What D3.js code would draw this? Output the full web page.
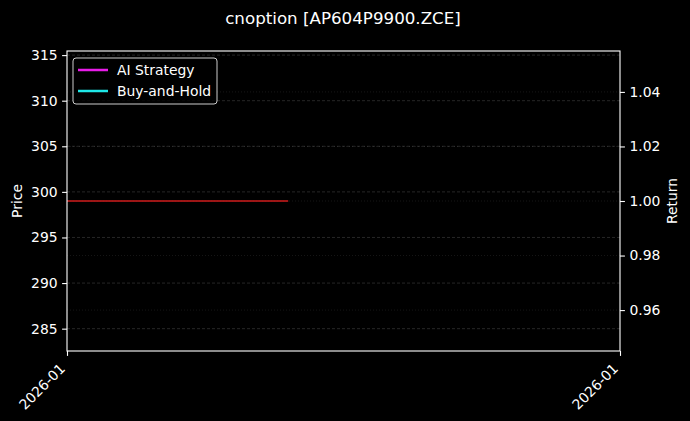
<!DOCTYPE html>
<html>
<head>
<meta charset="utf-8">
<script src="https://cdn.jsdelivr.net/npm/d3@7"></script>
<style>
  body { margin: 0; background: #000; }
  svg { display: block; font-family: "DejaVu Sans", sans-serif; }
</style>
</head>
<body>
<svg id="chart" width="690" height="421"></svg>
<script>
const title = "cnoption [AP604P9900.ZCE]";
const dates = ["2026-01-05", "2026-01-06", "2026-01-07", "2026-01-08", "2026-01-09",
    "2026-01-12", "2026-01-13", "2026-01-14", "2026-01-15"];
const prices = [299, 299, 299, 299, 299, 299, 299, 299, 299];
const xRange = ["2026-01-05", "2026-01-30"];
const priceTicks = [285, 290, 295, 300, 305, 310, 315];
const returnTicks = [0.96, 0.98, 1.0, 1.02, 1.04];
const series = [
    { name: "AI Strategy", color: "#e81ce8" },
    { name: "Buy-and-Hold", color: "#1ee6e6" }
];

const parse = d3.timeParse("%Y-%m-%d");
const margin = { top: 51, right: 70, bottom: 70, left: 67 };
const width = 690 - margin.left - margin.right;
const height = 421 - margin.top - margin.bottom;
const fs = "13.9px";

const svg = d3.select("#chart");
svg.append("rect").attr("width", 690).attr("height", 421).attr("fill", "#000");

const g = svg.append("g").attr("transform", `translate(${margin.left},${margin.top})`);

const x = d3.scaleTime().domain(xRange.map(parse)).range([0, width]);
const yPrice = d3.scaleLinear().domain([282.55, 315.45]).range([height, 0]);
const yRet = d3.scaleLinear().domain([0.945, 1.055]).range([height, 0]);

// grids
g.append("g")
    .selectAll("line")
    .data(priceTicks)
    .join("line")
    .attr("x1", 0).attr("x2", width)
    .attr("y1", (d) => yPrice(d)).attr("y2", (d) => yPrice(d))
    .attr("stroke", "#fff").attr("stroke-opacity", 0.25)
    .attr("stroke-width", 0.6).attr("stroke-dasharray", "3,2");

g.append("g")
    .selectAll("line")
    .data(returnTicks)
    .join("line")
    .attr("x1", 0).attr("x2", width)
    .attr("y1", (d) => yRet(d)).attr("y2", (d) => yRet(d))
    .attr("stroke", "#fff").attr("stroke-opacity", 0.15)
    .attr("stroke-width", 0.6).attr("stroke-dasharray", "1,2");

// price line
const line = d3.line()
    .x((d, i) => x(parse(dates[i])))
    .y((d) => yPrice(d));
g.append("path")
    .datum(prices)
    .attr("fill", "none")
    .attr("stroke", "#d01c1c")
    .attr("stroke-width", 1.3)
    .attr("d", line);

// axes
const tickStyle = (sel) => {
    sel.select(".domain").remove();
    sel.selectAll("line").attr("stroke", "#fff").attr("stroke-width", 1.1);
    sel.selectAll("text").attr("fill", "#fff").style("font-size", fs)
        .style("font-family", "DejaVu Sans");
};

g.append("g")
    .call(d3.axisLeft(yPrice).tickValues(priceTicks).tickSize(4.9).tickPadding(4.5))
    .call(tickStyle);

g.append("g")
    .attr("transform", `translate(${width},0)`)
    .call(d3.axisRight(yRet).tickValues(returnTicks).tickFormat(d3.format(".2f")).tickSize(4.9).tickPadding(4.5))
    .call(tickStyle);

const xAxis = g.append("g")
    .attr("transform", `translate(0,${height})`)
    .call(d3.axisBottom(x).tickValues(xRange.map(parse)).tickFormat(d3.timeFormat("%Y-%m")).tickSize(4.9))
    .call(tickStyle);
xAxis.selectAll("text")
    .attr("x", 0).attr("y", 0)
    .attr("text-anchor", "end")
    .attr("dy", "0.35em")
    .attr("transform", "translate(-5,15) rotate(-45)");

// frame
g.append("rect")
    .attr("width", width).attr("height", height)
    .attr("fill", "none").attr("stroke", "#fff").attr("stroke-width", 1.1);

// labels
svg.append("text")
    .attr("x", 343).attr("y", 24)
    .attr("text-anchor", "middle")
    .attr("fill", "#fff").style("font-size", "16.7px")
    .text(title);

svg.append("text")
    .attr("transform", `translate(22,${margin.top + height / 2}) rotate(-90)`)
    .attr("text-anchor", "middle")
    .attr("fill", "#fff").style("font-size", fs)
    .text("Price");

svg.append("text")
    .attr("transform", `translate(677,${margin.top + height / 2}) rotate(-90)`)
    .attr("text-anchor", "middle")
    .attr("fill", "#fff").style("font-size", fs)
    .text("Return");

// legend
const legend = g.append("g").attr("transform", "translate(6,7)");
legend.append("rect")
    .attr("width", 144).attr("height", 46)
    .attr("rx", 3)
    .attr("fill", "#000").attr("fill-opacity", 0.8)
    .attr("stroke", "#ccc").attr("stroke-width", 1);
const items = legend.selectAll("g.item")
    .data(series)
    .join("g")
    .attr("class", "item")
    .attr("transform", (d, i) => `translate(0,${12 + i * 21})`);
items.append("line")
    .attr("x1", 5).attr("x2", 35)
    .attr("stroke", (d) => d.color).attr("stroke-width", 2.5);
items.append("text")
    .attr("x", 44).attr("dy", "0.35em")
    .attr("fill", "#fff").style("font-size", fs)
    .text((d) => d.name);
</script>
</body>
</html>
